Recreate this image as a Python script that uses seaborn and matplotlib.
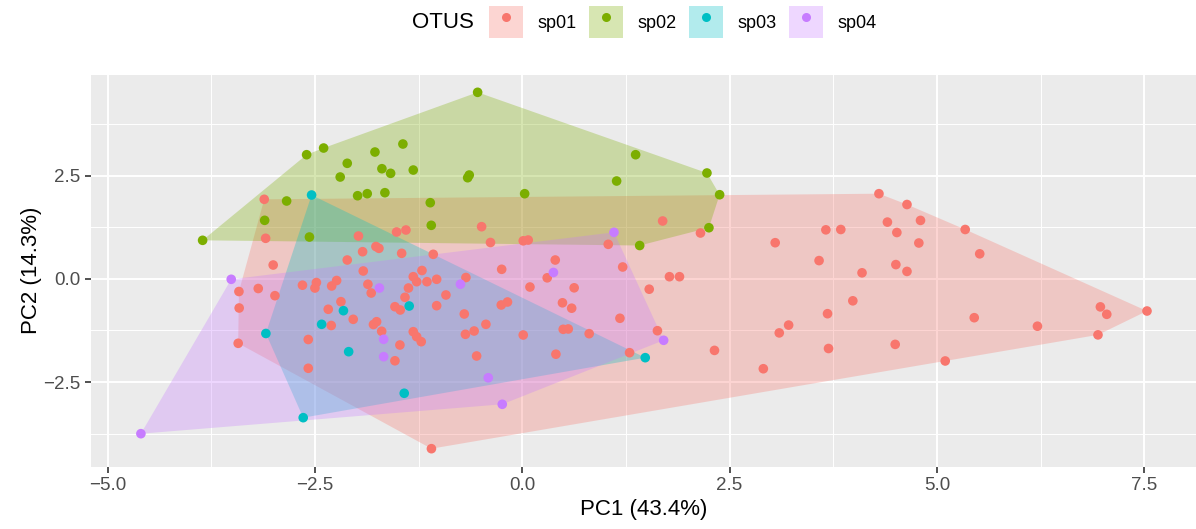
import numpy as np
import pandas as pd
import matplotlib
matplotlib.use("Agg")
import matplotlib.pyplot as plt
import seaborn as sns
from matplotlib.patches import Patch
from matplotlib.lines import Line2D
from matplotlib.legend_handler import HandlerTuple
from matplotlib.ticker import AutoMinorLocator, FixedLocator

# ---- PCA scores per OTU group ----
species = ["sp01", "sp02", "sp03", "sp04"]
palette = ["#F8766D", "#7CAE00", "#00BFC4", "#C77CFF"]

sp01_pc1 = [-3.111, -3.094, -3.003, -1.975, -1.925, -1.764, -1.728, -1.515, -1.402, -1.454,
            -2.110, -1.917, -1.861, -1.821, -2.482, -2.500, -2.238, -2.298, -2.650, -2.982,
            -3.183, -3.416, -3.413, -3.425, -1.372, -1.314, -1.273, -1.209, -1.149, -1.032,
            -1.414, -1.535, -1.471, -2.186, -2.339, -2.303, -2.038, -1.794, -1.756, -1.695,
            -1.314, -1.273, -1.218, -1.475, -1.535, -2.580, -2.580, -1.095, -1.073, -0.490,
            -0.383, -0.248, -0.920, -0.679, -1.032, -0.699, -0.253, -0.178, -0.438, -0.685,
            -0.580, -0.550, 0.301, 0.398, 1.211, 1.775, 1.896, 1.531, 0.093, 0.626,
            0.485, 0.596, 1.178, 1.630, 0.012, 0.494, 0.555, 0.807, 0.406, 1.294,
            2.318, 1.693, 0.012, 0.072, 1.037, 2.149, 2.907, 3.050, 3.099, 3.212,
            3.579, 3.661, 3.841, 3.681, 3.693, 3.986, 4.097, 4.301, 4.639, 4.403,
            4.517, 4.802, 4.782, 4.505, 4.639, 4.497, 5.100, 5.341, 5.516, 5.450,
            6.212, 6.942, 6.971, 7.048, 7.533]
sp01_pc2 = [1.925, 0.981, 0.334, 1.036, 0.656, 0.782, 0.738, 1.133, 1.182, 0.617,
            0.455, 0.189, -0.133, -0.344, -0.090, -0.223, -0.041, -0.174, -0.155, -0.409,
            -0.235, -0.308, -0.707, -1.562, -0.223, 0.051, -0.070, 0.201, -0.070, -0.012,
            -0.448, -0.676, -0.755, -0.554, -0.738, -1.131, -0.981, -1.107, -1.039, -1.271,
            -1.281, -1.402, -1.523, -1.603, -1.985, -1.470, -2.167, -4.114, 0.593, 1.262,
            0.879, 0.230, -0.392, 0.031, -0.651, -0.852, -0.634, -0.562, -1.102, -1.344,
            -1.264, -1.869, 0.024, 0.455, 0.286, 0.051, 0.051, -0.252, -0.199, -0.218,
            -0.581, -0.712, -0.956, -1.257, -1.361, -1.223, -1.215, -1.329, -1.826, -1.789,
            -1.734, 1.400, 0.920, 0.939, 0.835, 1.109, -2.178, 0.874, -1.310, -1.121,
            0.441, 1.186, 1.194, -0.845, -1.688, -0.533, 0.145, 2.061, 1.799, 1.373,
            1.121, 1.414, 0.867, 0.344, 0.179, -1.588, -1.990, 1.194, 0.605, -0.942,
            -1.148, -1.358, -0.680, -0.860, -0.780]

sp02_pc1 = [-3.854, -3.106, -2.841, -2.600, -2.395, -2.566, -2.195, -2.110, -1.985, -1.869,
            -1.776, -1.692, -1.656, -1.587, -1.439, -1.314, -1.109, -1.097, -0.658, -0.639,
            -0.538, 0.029, 1.138, 1.367, 1.416, 2.227, 2.251, 2.380]
sp02_pc2 = [0.932, 1.416, 1.884, 3.005, 3.167, 1.012, 2.465, 2.797, 2.012, 2.061,
            3.070, 2.666, 2.085, 2.554, 3.264, 2.634, 1.843, 1.295, 2.448, 2.513,
            4.516, 2.061, 2.368, 3.005, 0.806, 2.562, 1.237, 2.036]

sp03_pc1 = [-2.540, -3.091, -2.419, -2.156, -2.093, -1.363, -1.423, -2.641, 1.483]
sp03_pc2 = [2.029, -1.324, -1.102, -0.772, -1.765, -0.659, -2.772, -3.363, -1.910]

sp04_pc1 = [-3.509, -4.598, -1.722, -1.671, -1.671, -0.410, -0.745, 0.376, -0.241, 1.705, 1.106]
sp04_pc2 = [-0.012, -3.751, -0.223, -1.465, -1.886, -2.397, -0.131, 0.153, -3.039, -1.489, 1.126]

xticks = [-5.0, -2.5, 0.0, 2.5, 5.0, 7.5]
yticks = [-2.5, 0.0, 2.5]
x_title = "PC1 (43.4%)"
y_title = "PC2 (14.3%)"
legend_title = "OTUS"

groups = {
    "sp01": (sp01_pc1, sp01_pc2),
    "sp02": (sp02_pc1, sp02_pc2),
    "sp03": (sp03_pc1, sp03_pc2),
    "sp04": (sp04_pc1, sp04_pc2),
}
df = pd.concat(
    [pd.DataFrame({"PC1": g[0], "PC2": g[1], "OTUS": k}) for k, g in groups.items()],
    ignore_index=True,
)


def convex_hull(xs, ys):
    """Monotone-chain convex hull, returns vertices in order."""
    pts = sorted(set(zip(xs, ys)))
    if len(pts) < 3:
        return pts

    def cross(o, a, b):
        return (a[0] - o[0]) * (b[1] - o[1]) - (a[1] - o[1]) * (b[0] - o[0])

    lower, upper = [], []
    for p in pts:
        while len(lower) >= 2 and cross(lower[-2], lower[-1], p) <= 0:
            lower.pop()
        lower.append(p)
    for p in reversed(pts):
        while len(upper) >= 2 and cross(upper[-2], upper[-1], p) <= 0:
            upper.pop()
        upper.append(p)
    return lower[:-1] + upper[:-1]


# ---- figure ----
plt.rcParams["font.family"] = ["Liberation Sans", "DejaVu Sans"]
plt.rcParams["axes.unicode_minus"] = True

W, H = 1196, 529
fig = plt.figure(figsize=(W / 100, H / 100), dpi=100)
fig.patch.set_facecolor("white")
ax = fig.add_axes([90.6 / W, 1 - 466.5 / H, (1197.3 - 90.6) / W, (466.5 - 74.5) / H])
ax.set_facecolor("#EBEBEB")

for sp, col in zip(species, palette):
    sub = df[df["OTUS"] == sp]
    hx, hy = zip(*convex_hull(sub["PC1"], sub["PC2"]))
    ax.fill(hx, hy, color=col, alpha=0.3, lw=0, zorder=2)

sns.scatterplot(data=df, x="PC1", y="PC2", hue="OTUS", hue_order=species,
                palette=palette, s=48, edgecolor="none", linewidth=0,
                legend=False, ax=ax, zorder=3)

ax.margins(0.05)
ax.xaxis.set_major_locator(FixedLocator(xticks))
ax.yaxis.set_major_locator(FixedLocator(yticks))
ax.xaxis.set_minor_locator(AutoMinorLocator(2))
ax.yaxis.set_minor_locator(AutoMinorLocator(2))
ax.set_xticklabels([f"{v:.1f}".replace("-", "\u2212") for v in xticks])
ax.set_yticklabels([f"{v:.1f}".replace("-", "\u2212") for v in yticks])

ax.grid(which="major", color="white", linewidth=1.4)
ax.grid(which="minor", color="white", linewidth=0.7)
ax.set_axisbelow(True)
for s in ax.spines.values():
    s.set_visible(False)
ax.tick_params(which="major", length=4, width=1.2, color="#333333",
               labelcolor="#4D4D4D", labelsize=13.5, pad=3.5)
ax.tick_params(which="minor", length=0)

ax.set_xlabel(x_title, fontsize=16, color="black", labelpad=4)
ax.set_ylabel(y_title, fontsize=16, color="black", labelpad=1)

# ---- legend along the top ----
handles = [
    (Patch(facecolor=c, alpha=0.3, edgecolor="none"),
     Line2D([], [], marker="o", linestyle="None", markersize=6.5,
            markerfacecolor=c, markeredgewidth=0))
    for c in palette
]
fig.text(412 / W, 1 - 22 / H, legend_title, fontsize=16, va="center", ha="left")
fig.legend(handles, species, handler_map={tuple: HandlerTuple(ndivide=1, pad=0)},
           loc="center left", bbox_to_anchor=(489 / W, 1 - 22 / H),
           ncol=4, frameon=False, fontsize=13, handlelength=1.88,
           handleheight=2.43, handletextpad=0.78, columnspacing=0.72,
           borderpad=0, borderaxespad=0)

fig.savefig("out.png", dpi=100)
